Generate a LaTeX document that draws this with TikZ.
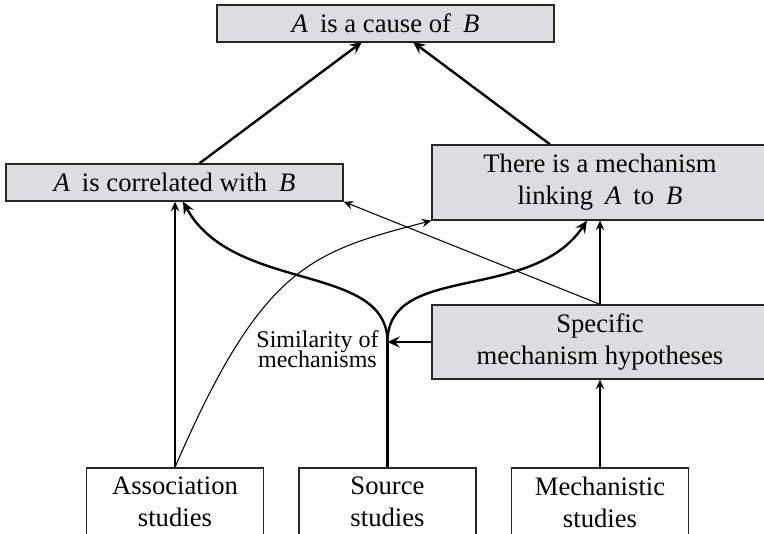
\documentclass[tikz,border=0pt]{standalone}
\usepackage{fontspec}
\setmainfont{Liberation Serif}
\usetikzlibrary{arrows.meta}
\definecolor{boxfill}{RGB}{220,221,222}
\newcommand{\gapA}{\textit{A}\hspace{0.45em}}
\newcommand{\gapB}{\hspace{0.45em}\textit{B}}
\setlength{\lineskiplimit}{-100pt}
\begin{document}
\begin{tikzpicture}[x=0.375pt,y=-0.375pt,
  basebox/.style={draw=black!85, line width=0.5pt, inner sep=0pt, align=center,
    font=\fontsize{10}{12}\selectfont},
  claim/.style={basebox, fill=boxfill},
  study/.style={basebox, fill=white, minimum width=66.4pt, minimum height=25.5pt},
  thinarrow/.style={-{Stealth[length=3.6pt,width=3.2pt,inset=1.3pt]}, line width=0.4pt},
  thickarrow/.style={-{Stealth[length=4.6pt,width=4.2pt,inset=1.7pt]}, line width=0.9pt},
  thickline/.style={line width=0.9pt}]

\useasboundingbox (0,0) rectangle (764,534);

% claims
\node[claim, minimum width=126.4pt, minimum height=13.9pt] (cause) at (385.5,23.5)
  {\gapA is a cause of\gapB};
\node[claim, minimum width=126.4pt, minimum height=13.9pt] (corr) at (174.5,182.5)
  {\gapA is correlated with\gapB};
\node[claim, minimum width=126pt, minimum height=28.1pt] (mech) at (600,182.5)
  {There is a mechanism\\ linking\hspace{0.45em}\gapA to\gapB};
\node[claim, minimum width=126pt, minimum height=27.75pt] (spec) at (600,342)
  {Specific\\ mechanism hypotheses};

% evidence
\node[study] (assoc) at (175,502) {Association\\ studies};
\node[study] (source) at (387.5,502) {Source\\ studies};
\node[study] (mstud) at (600,502) {Mechanistic\\ studies};

% fork of the source studies line
\coordinate (fork) at (387.5,342);
\node[anchor=east, inner sep=0pt, align=center,
  font=\fontsize{9}{7.5}\selectfont] (sim) at (379,349)
  {Similarity of\\ mechanisms};

% connectors to the top claim
\draw[thickarrow] (corr.north) ++(25,0) coordinate (corrtop) -- (362,42) coordinate (causeL);
\draw[thickarrow] (mech.north) ++(-50,0) coordinate (mechtop) -- (413,42) coordinate (causeR);

% association studies
\draw[thinarrow] (assoc.north) -- (corr.south -| assoc.north);
\draw[thinarrow] (assoc.north) .. controls +(87.4,-202.4) and +(-120,31.5) .. (mech.south west);

% source studies
\draw[thickline] (source.north) -- (fork);
\draw[thickarrow] (fork) .. controls +(0,-80) and +(50,92) .. ([xshift=3.2pt]corr.south);
\draw[thickarrow] (fork) .. controls +(0,-80) and +(-55,83) .. ([xshift=-4.9pt]mech.south);
\draw[thickarrow] (spec.west) -- (fork);

% specific hypotheses and mechanistic studies
\draw[thinarrow] (spec.north) -- (mech.south);
\draw[thinarrow] (spec.north) -- (corr.south east);
\draw[thinarrow] (mstud.north) -- (spec.south);
\end{tikzpicture}
\end{document}
